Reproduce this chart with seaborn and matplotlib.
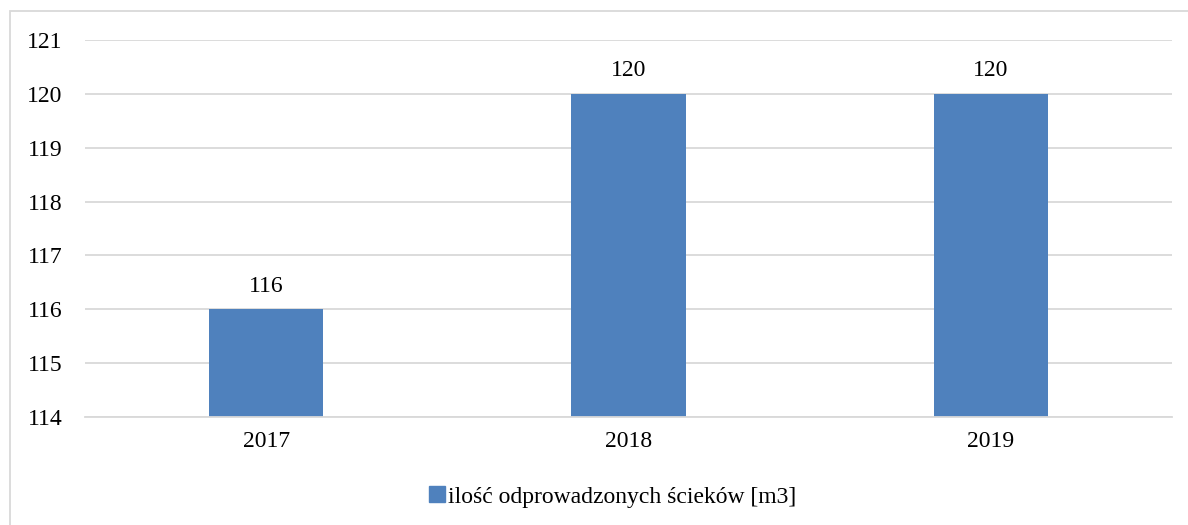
import matplotlib
matplotlib.use("Agg")
import matplotlib.pyplot as plt
import seaborn as sns
import pandas as pd
from matplotlib.patches import Rectangle
from matplotlib.lines import Line2D

years = ["2017", "2018", "2019"]
values = [116, 120, 120]
series_label = "ilość odprowadzonych ścieków [m3]"
y_ticks = [114, 115, 116, 117, 118, 119, 120, 121]

sns.set_theme(style="white")
plt.rcParams['font.family'] = ['Liberation Serif', 'DejaVu Serif']
plt.rcParams['text.color'] = 'black'

fig = plt.figure(figsize=(11.88, 5.25), dpi=100)
ax = fig.add_axes([85/1188, 1-417/525, (1172-85)/1188, (417-40)/525])

df = pd.DataFrame({"year": years, "value": values})
bar_color = "#4F81BD"
sns.barplot(data=df, x="year", y="value", color=bar_color, width=0.315,
            ax=ax, saturation=1, edgecolor="none")

ax.set_ylim(114, 121)
ax.set_yticks(y_ticks)
ax.set_xlabel("")
ax.set_ylabel("")
ax.grid(axis="y", color="#D9D9D9", linewidth=1.3)
ax.set_axisbelow(True)
for s in ["top", "left", "right"]:
    ax.spines[s].set_visible(False)
ax.spines["bottom"].set_color("#D9D9D9")
ax.spines["bottom"].set_linewidth(1.3)
ax.tick_params(axis="both", length=0, labelsize=17, colors="#000000")
ax.tick_params(axis="y", pad=16)
ax.tick_params(axis="x", pad=10)

for c in ax.containers:
    ax.bar_label(c, labels=[str(v) for v in values], padding=9, fontsize=17, color="black")

handle = Line2D([], [], marker="s", linestyle="none", color=bar_color, markersize=11)
fig.legend([handle], [series_label], loc="center", bbox_to_anchor=(612/1188, 1-497/525),
           frameon=False, fontsize=17, handletextpad=0.1, handlelength=0.8,
           labelcolor="black")

fig.add_artist(Rectangle((10/1188, -0.01), 1.1, 1 - 11/525 + 0.01, transform=fig.transFigure,
                         fill=False, edgecolor="#D9D9D9", linewidth=1.3))

fig.savefig("out.png", dpi=100, facecolor="white")
